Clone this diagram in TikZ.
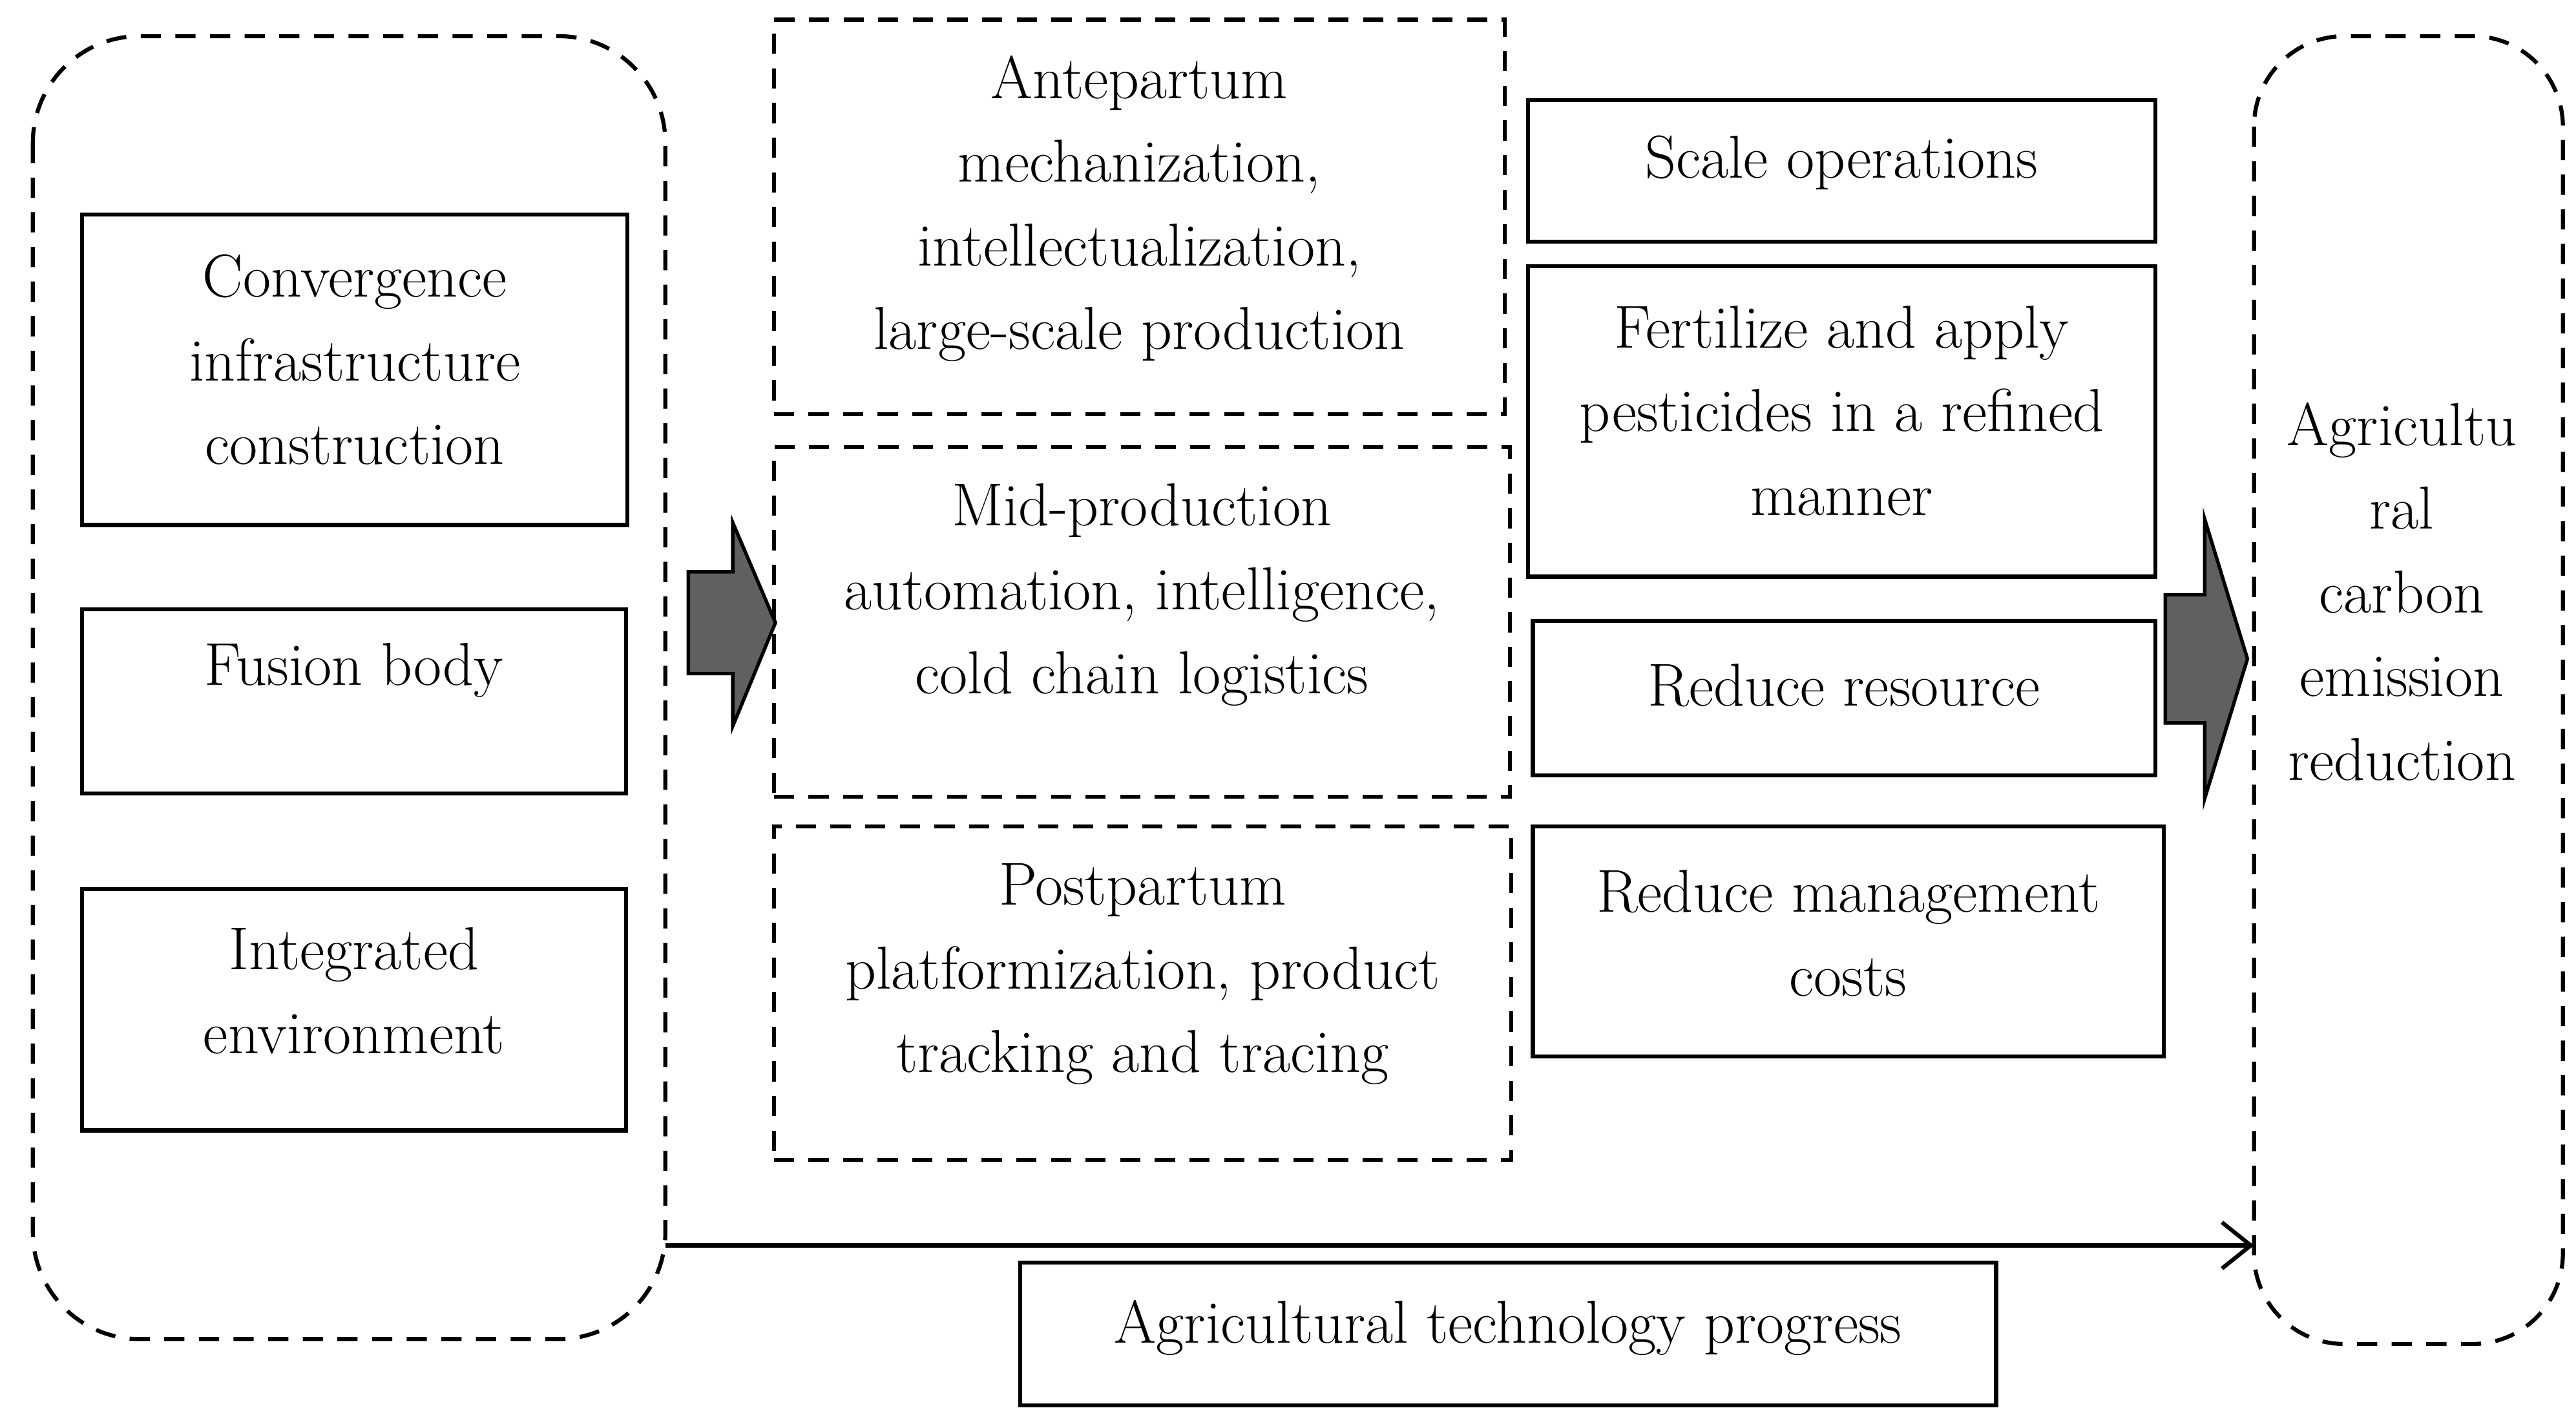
\documentclass[tikz,border=0pt]{standalone}
\usetikzlibrary{arrows.meta}
\begin{document}
\begin{tikzpicture}[x=0.02cm,y=-0.02cm,
  sbox/.style={draw,line width=1.4pt,inner sep=0pt},
  dbox/.style={draw,line width=1.4pt,dashed,dash pattern=on 7pt off 5pt,inner sep=0pt},
  lbl/.style={font=\fontsize{21}{29}\selectfont,align=center,inner sep=0pt},
  fat/.style={draw,line width=1.2pt,fill=gray!75!black}]
\useasboundingbox (0,0) rectangle (1568,869);
\draw[dbox,rounded corners=1.3cm] (20,22) rectangle (405,815);
\draw[dbox,rounded corners=1.1cm] (1372,22) rectangle (1560,818);
\node[sbox,minimum width=332*0.02cm,minimum height=189*0.02cm] (conv) at (216,225) {};
\node[lbl] at (216,219) {Convergence\\infrastructure\\construction};
\node[sbox,minimum width=331*0.02cm,minimum height=112*0.02cm] (fus) at (215.5,427) {};
\node[lbl] at (215.5,408) {Fusion body};
\node[sbox,minimum width=331*0.02cm,minimum height=147*0.02cm] (int) at (215.5,614.5) {};
\node[lbl] at (215.5,603) {Integrated\\environment};
\node[dbox,minimum width=445*0.02cm,minimum height=240*0.02cm] (ante) at (693.5,132) {};
\node[lbl] at (693.5,127) {Antepartum\\mechanization,\\intellectualization,\\large-scale production};
\node[dbox,minimum width=448*0.02cm,minimum height=213*0.02cm] (mid) at (695,378.5) {};
\node[lbl] at (695,362) {Mid-production\\automation, intelligence,\\cold chain logistics};
\node[dbox,minimum width=449*0.02cm,minimum height=203*0.02cm] (post) at (695.5,604.5) {};
\node[lbl] at (695.5,593) {Postpartum\\platformization, product\\tracking and tracing};
\node[sbox,minimum width=382*0.02cm,minimum height=86*0.02cm] (scale) at (1121,104) {};
\node[lbl] at (1121,99) {Scale operations};
\node[sbox,minimum width=382*0.02cm,minimum height=189*0.02cm] (fert) at (1121,256.5) {};
\node[lbl] at (1121,250) {Fertilize and apply\\pesticides in a refined\\manner};
\node[sbox,minimum width=379*0.02cm,minimum height=94*0.02cm] (res) at (1122.5,425) {};
\node[lbl] at (1122.5,417) {Reduce resource};
\node[sbox,minimum width=384*0.02cm,minimum height=140*0.02cm] (mgmt) at (1125,573) {};
\node[lbl] at (1125,568) {Reduce management\\costs};
\node[lbl] (agr) at (1462,360) {Agricultu\\ral\\carbon\\emission\\reduction};
\node[sbox,minimum width=594*0.02cm,minimum height=87*0.02cm] (tech) at (918,812) {};
\node[lbl] at (918,808) {Agricultural technology progress};
\coordinate (ls) at (405,758); \coordinate (le) at (1372,758);
\draw[line width=1.4pt,-{Straight Barb[length=10pt,width=16pt]}] (ls) -- (le);
\draw[fat] (419,348) -- (446,348) -- (446,318) -- (472,379) -- (446,442) -- (446,410) -- (419,410) -- cycle;
\draw[fat] (1318,362) -- (1342,362) -- (1342,316) -- (1368,401) -- (1342,486) -- (1342,440) -- (1318,440) -- cycle;
\end{tikzpicture}
\end{document}
